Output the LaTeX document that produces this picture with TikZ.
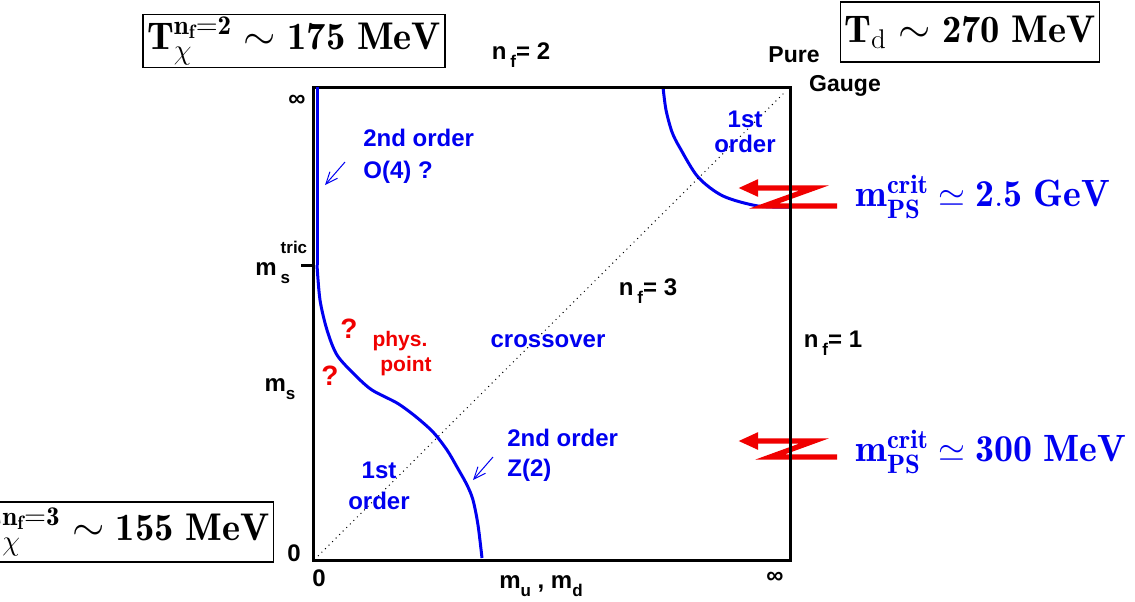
\documentclass[tikz,border=0pt]{standalone}
\usepackage{amsmath}
\usepackage{fontspec}
\usetikzlibrary{arrows.meta,positioning}
\newfontfamily\hv{Liberation Sans}
\definecolor{phblue}{HTML}{0000F0}
\definecolor{phred}{HTML}{F00000}
\newcommand{\lsub}[1]{\raisebox{-0.65ex}{\fontsize{8.5}{9}\selectfont #1}}

\begin{document}
\begin{tikzpicture}[x=0.5pt, y=-0.5pt,
  axislbl/.style={font=\hv\bfseries\fontsize{12}{13}\selectfont, inner sep=1pt},
  cornerlbl/.style={font=\hv\bfseries\fontsize{11.5}{12}\selectfont, inner sep=1pt},
  phase/.style={font=\hv\bfseries\fontsize{12}{12.5}\selectfont, text=phblue, inner sep=1pt, align=center},
  physlbl/.style={font=\hv\bfseries\fontsize{10.5}{12}\selectfont, text=phred, inner sep=1pt},
  qmark/.style={font=\hv\bfseries\fontsize{14}{14}\selectfont, text=phred, inner sep=1pt},
  tbox/.style={draw, line width=0.6pt, inner xsep=2pt, inner ysep=1pt, minimum height=30pt, font=\fontsize{19.3}{21}\selectfont},
  crit/.style={text=phblue, font=\fontsize{19}{21}\selectfont, anchor=west, inner sep=0pt},
  border/.style={line width=1.5pt},
  critline/.style={phblue, line width=1.5pt},
  pointer/.style={phblue, line width=0.5pt, -{Straight Barb[length=6pt,width=5pt]}},
  zarrow/.style={phred, line width=2.6pt, line join=miter, {Triangle[length=10pt,width=8pt]}-}
]
  \useasboundingbox (0,0) rectangle (1135,601);

  % phase diagram frame
  \coordinate (ll) at (313,560);
  \coordinate (ur) at (790,87);
  \coordinate (tric) at (313,265);

  % critical lines
  \draw[critline] plot[smooth] coordinates {(663,87) (666,110) (672,132) (680,148)
    (698,177) (723,196) (758,206) (790,207)};
  \draw[critline] plot[smooth] coordinates {(317,265) (320,300) (327,330) (337,355)
    (355,375) (372,390) (397,403) (415,416) (433,432) (447,450) (457,467)
    (467,485) (473,500) (478,525) (482,558)};
  \draw[dotted, line width=0.5pt] (318,556) -- (786,91);

  % Z arrows for the critical masses
  \draw[zarrow] (738,188) -- (814,188) -- (764,206) -- (837,206);
  \draw[zarrow] (738,441) -- (814,441) -- (770,457) -- (837,457);

  \draw[border] (ll) rectangle (ur);
  \draw[critline] (317,87) -- (317,265);
  \draw[border] (tric) -- ++(-12,0) coordinate (tick);

  % axis labels
  \node[axislbl] (inftyl) at (297,101) {∞};
  \node[axislbl] (inftyb) at (775,578) {∞};
  \node[axislbl] (zerol) at (294,553) {0};
  \node[axislbl] (zerob) at (319,578) {0};
  \node[axislbl] (mud) at (541,586) {m\lsub{u} , m\lsub{d}};
  \node[axislbl] (ms) at (280,389) {m\lsub{s}};
  \node[axislbl, anchor=base west, inner sep=0pt] (mstric) at (255,275)
    {m\,\rlap{\raisebox{1.7ex}{\fontsize{8.5}{9}\selectfont tric}}\lsub{s}};
  \node[axislbl] (nf2) at (521,55) {n\,\lsub{f}= 2};
  \node[axislbl] (nf3) at (648,291) {n\,\lsub{f}= 3};
  \node[axislbl] (nf1) at (833,343) {n\,\lsub{f}= 1};
  \node[cornerlbl] (pure) at (794,55) {Pure};
  \node[cornerlbl] (gauge) at (845,86) {Gauge};

  % phases
  \node[phase, anchor=west] (so4) at (361,138) {2nd order};
  \node[phase, anchor=west] (o4) at (361,172) {O(4) ?};
  \node[phase] (fopg) at (745,132) {1st\\order};
  \node[phase] (cross) at (548,341) {crossover};
  \node[phase, anchor=west] (sz2) at (505,438) {2nd order};
  \node[phase, anchor=west] (z2) at (505,470) {Z(2)};
  \node[phase] (fochi) at (379,486) {1st\\[3pt]order};
  \node[qmark] (qa) at (349,329) {?};
  \node[qmark] (qb) at (330,376) {?};
  \node[physlbl] (phys) at (400,341) {phys.};
  \node[physlbl] (point) at (406,366) {point};
  \draw[pointer] (345,162) -- (325,185);
  \draw[pointer] (493,457) -- (473,480);

  % temperatures and critical masses
  \node[tbox, minimum height=26.5pt] (tchi2) at (294,41)
    {$\mathbf{T}_{\chi}^{\mathbf{n_f=2}}\sim\mathbf{175\ MeV}$};
  \node[tbox] (tdec) at (970,32) {$\mathbf{T}_{\mathrm{d}}\sim\mathbf{270\ MeV}$};
  \node[tbox, anchor=east] (tchi3) at (274,532)
    {$\mathbf{T}_{\chi}^{\mathbf{n_f=3}}\sim\mathbf{155\ MeV}$};
  \node[crit] (mcrith) at (855,197) {$\mathbf{m_{PS}^{crit}}\simeq\mathbf{2.5\ GeV}$};
  \node[crit] (mcritl) at (855,452) {$\mathbf{m_{PS}^{crit}}\simeq\mathbf{300\ MeV}$};
\end{tikzpicture}
\end{document}
